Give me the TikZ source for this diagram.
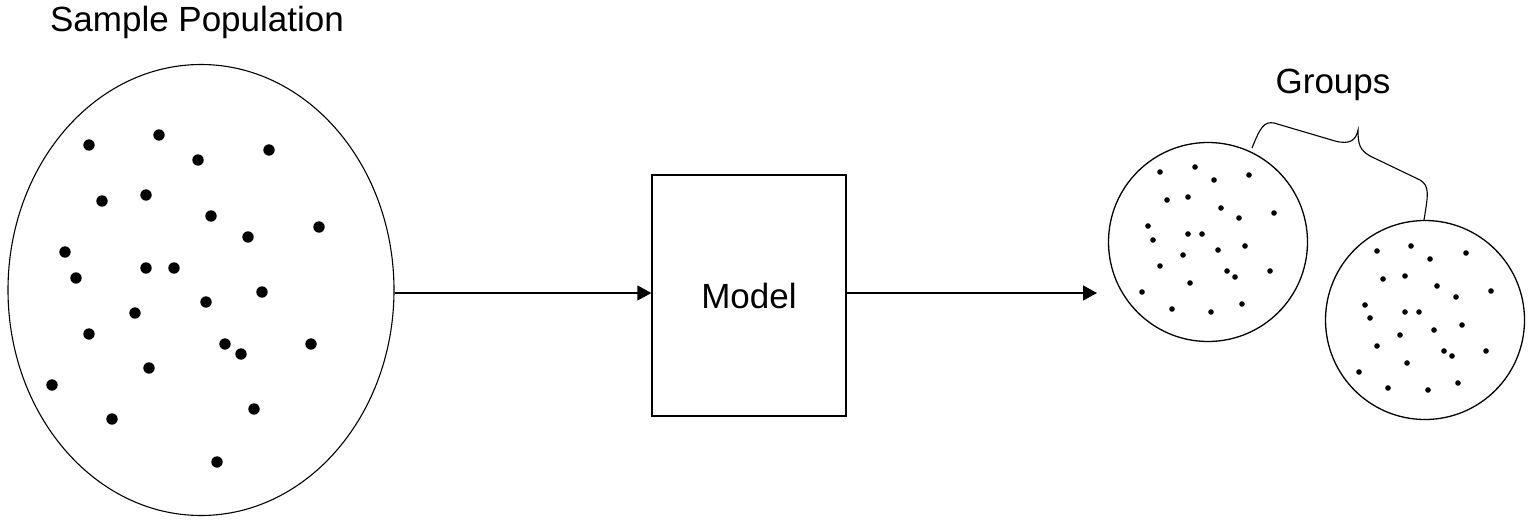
\documentclass[tikz,border=0pt]{standalone}
\usepackage{fontspec}
\setmainfont{Liberation Sans}
\usetikzlibrary{shapes.geometric,arrows.meta}

\tikzset{
  arr/.style={line width=1.3pt, -{Triangle[length=14pt,width=15pt]}},
  bigdot/.style={fill=black},
  smalldot/.style={fill=black},
  label/.style={font=\fontsize{35}{42}\selectfont, inner sep=0pt}
}

\begin{document}
\begin{tikzpicture}[x=1pt,y=-1pt,line width=1.3pt]
\useasboundingbox (0,0) rectangle (1532,530);

% Sample population

\node[draw, ellipse, line width=1.1pt, minimum width=386pt, minimum height=451pt, inner sep=0pt] (pop) at (201,290) {};
\node[label] (poplabel) at (197,22) {Sample Population};

\foreach \x/\y in {89/145,159/135,198/160,269/150,102/201,146/195,211/216,319/227,
  248/237,65/252,146/268,174/268,76/278,262/292,206/302,135/313,89/334,225/344,
  311/344,241/354,149/368,52/385,254/409,112/419,217/462}
  \fill[bigdot] (\x,\y) circle (5.7pt);

% Model

\coordinate (axis) at (0,293);
\node[draw, minimum width=194pt, minimum height=241pt, inner sep=0pt, label] (model) at (749,295.5) {Model};

\draw[arr] (pop.east |- axis) -- (model.west |- axis);

\coordinate (grpin) at (1097,293);
\draw[arr] (model.east |- axis) -- (grpin);

% Groups

\node[draw, circle, minimum size=199pt, inner sep=0pt] (grpA) at (1208,242) {};
\node[draw, circle, minimum size=199pt, inner sep=0pt] (grpB) at (1425,320) {};
\node[label] (grplabel) at (1333,85) {Groups};

\foreach \x/\y in {1160/172,1195/167,1214/180,1249/175,1167/200,1188/197,1221/208,
  1239/218,1274/213,1148/226,1188/234,1202/234,1153/240,1245/246,1218/250,1183/255,
  1160/266,1227/271,1270/271,1235/277,1190/283,1142/292,1242/304,1172/309,1211/312}
  \fill[smalldot] (\x,\y) circle (2.8pt);

\foreach \x/\y in {1377/251,1411/246,1430/259,1466/253,1383/279,1405/276,1437/286,
  1456/297,1491/291,1365/305,1405/312,1419/312,1370/318,1462/325,1434/330,1400/335,
  1377/346,1444/351,1486/351,1452/356,1407/363,1359/372,1458/383,1388/388,1428/390}
  \fill[smalldot] (\x,\y) circle (2.8pt);

% brace
\draw[line width=1.1pt] (1252,148) .. controls (1260,128) and (1264,121) .. (1274,123)
  -- (1335,141) .. controls (1350,145) and (1356,140) .. (1358,130)
  .. controls (1358,145) and (1360,150) .. (1370,156)
  -- (1420,180) .. controls (1430,186) and (1428,195) .. (1424,220);

\end{tikzpicture}
\end{document}
